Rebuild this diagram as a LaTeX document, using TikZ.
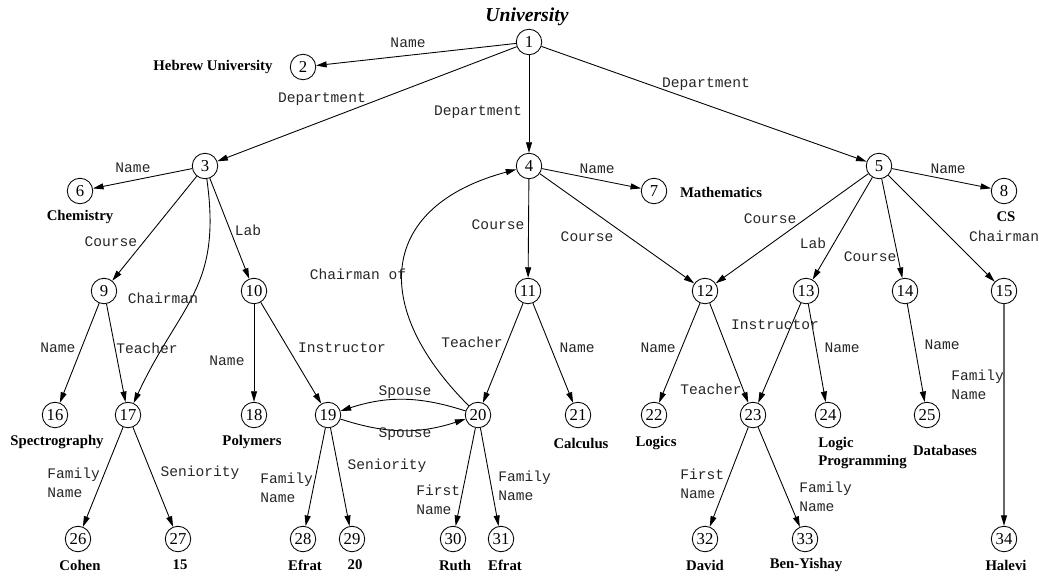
\documentclass[tikz,border=0pt]{standalone}
\usepackage{fontspec}
\setmainfont{Liberation Serif}
\setmonofont{Liberation Mono}
\usetikzlibrary{arrows.meta}

\begin{document}
\begin{tikzpicture}[x=0.2mm,y=0.2mm,
  num/.style={circle,draw,line width=0.5pt,inner sep=0pt,minimum size=5.1mm,font=\fontsize{9.5}{10}\selectfont},
  val/.style={inner sep=0pt,align=left,font=\fontsize{8.4}{10.5}\selectfont\bfseries},
  lab/.style={inner sep=0pt,align=left,text=black!85,font=\fontsize{8.3}{10.5}\selectfont\ttfamily},
  arr/.style={-{Triangle[length=6pt,width=3.4pt]},line width=0.5pt}]
\useasboundingbox (0,0) rectangle (1039,576);

% objects
\foreach \n/\x/\y in {1/529/534, 2/303/509,
  3/205/410, 4/529/410, 5/879/410, 6/80/385, 7/654/385, 8/1004/385,
  9/104/285, 10/254/285, 11/528/285, 12/705/285, 13/806/285, 14/905/285, 15/1004/285,
  16/55/161, 17/128/161, 18/254/161, 19/328/161, 20/478/161, 21/578/161,
  22/654/161, 23/753/161, 24/828/161, 25/927/161,
  26/78/37, 27/178/37, 28/303/37, 29/352/37, 30/453/37, 31/501/37,
  32/705/37, 33/805/37, 34/1004/37}
  \node[num] (n\n) at (\x,\y) {\n};

\node[font=\fontsize{11.2}{12}\selectfont\bfseries\itshape] (title) at (527,559) {University};

% atomic values
\node[val] (v2) at (213,509) {Hebrew University};
\node[val] (v6) at (80,359) {Chemistry};
\node[val] (v7) at (721,384) {Mathematics};
\node[val] (v8) at (1006,359) {CS};
\node[val] (v16) at (57,134) {Spectrography};
\node[val] (v18) at (252,134) {Polymers};
\node[val] (v21) at (581,133) {Calculus};
\node[val] (v22) at (656,133) {Logics};
\node[val,anchor=west] (v24) at (818,123) {Logic\\Programming};
\node[val] (v25) at (945,126) {Databases};
\foreach \n/\x/\t in {26/80/Cohen, 27/180/15, 28/305/Efrat, 29/355/20, 30/455/Ruth,
  31/505/Efrat, 32/705/David, 33/806/Ben-Yishay, 34/1006/Halevi}
  \node[val] (v\n) at (\x,11) {\t};

% edges
\foreach \a/\b in {1/2, 1/3, 1/4, 1/5, 3/6, 4/7, 5/8, 3/9, 3/10,
  4/11, 4/12, 5/12, 5/13, 5/14, 5/15, 9/16, 9/17, 10/18, 10/19,
  11/20, 11/21, 12/22, 12/23, 13/23, 13/24, 14/25,
  17/26, 17/27, 19/28, 19/29, 20/30, 20/31, 23/32, 23/33}
  \draw[arr] (n\a) -- (n\b);
\draw[arr,black!60,line width=0.6pt,-{Triangle[length=6pt,width=3.4pt,black]}] (n15) -- (n34);
\draw[arr] (n3) to[out=-82,in=65,looseness=1.2] (n17);
\draw[arr] (n20) to[out=135,in=195,looseness=1.5] (n4);
\draw[arr] (n20) to[bend right=18] (n19);
\draw[arr] (n19) to[bend right=18] (n20);

% edge labels
\node[lab] (l1-2) at (408,533) {Name};
\node[lab] (l1-3) at (322,477) {Department};
\node[lab] (l1-4) at (478,464) {Department};
\node[lab] (l1-5) at (706,492) {Department};
\node[lab] (l3-6) at (133,408) {Name};
\node[lab] (l4-7) at (597,407) {Name};
\node[lab] (l5-8) at (948,407) {Name};
\node[lab] (l3-9) at (111,334) {Course};
\node[lab] (l3-10) at (248,346) {Lab};
\node[lab] (l3-17) at (163,278) {Chairman};
\node[lab] (l4-11) at (498,351) {Course};
\node[lab] (l4-12) at (587,339) {Course};
\node[lab] (l5-12) at (770,357) {Course};
\node[lab] (l5-13) at (813,333) {Lab};
\node[lab] (l5-14) at (870,319) {Course};
\node[lab] (l5-15) at (1004,340) {Chairman};
\node[lab] (l20-4) at (358,302) {Chairman of};
\node[lab] (l9-16) at (58,228) {Name};
\node[lab] (l9-17) at (147,228) {Teacher};
\node[lab] (l10-18) at (227,215) {Name};
\node[lab] (l10-19) at (342,228) {Instructor};
\node[lab] (l11-20) at (472,234) {Teacher};
\node[lab] (l11-21) at (577,228) {Name};
\node[lab] (l12-22) at (658,228) {Name};
\node[lab] (l13-23) at (775,251) {Instructor};
\node[lab] (l12-23) at (711,187) {Teacher};
\node[lab] (l13-24) at (842,228) {Name};
\node[lab] (l14-25) at (942,231) {Name};
\node[lab,anchor=west] (l15-34) at (951,191) {Family\\Name};
\node[lab] (l20-19) at (405,184) {Spouse};
\node[lab] (l19-20) at (405,142) {Spouse};
\node[lab,anchor=west] (l17-26) at (47,93) {Family\\Name};
\node[lab] (l17-27) at (200,103) {Seniority};
\node[lab,anchor=west] (l19-28) at (260,88) {Family\\Name};
\node[lab] (l19-29) at (387,110) {Seniority};
\node[lab,anchor=west] (l20-30) at (416,76) {First\\Name};
\node[lab,anchor=west] (l20-31) at (498,90) {Family\\ Name};
\node[lab,anchor=west] (l23-32) at (680,92) {First\\Name};
\node[lab,anchor=west] (l23-33) at (799,79) {Family\\Name};
\end{tikzpicture}
\end{document}
